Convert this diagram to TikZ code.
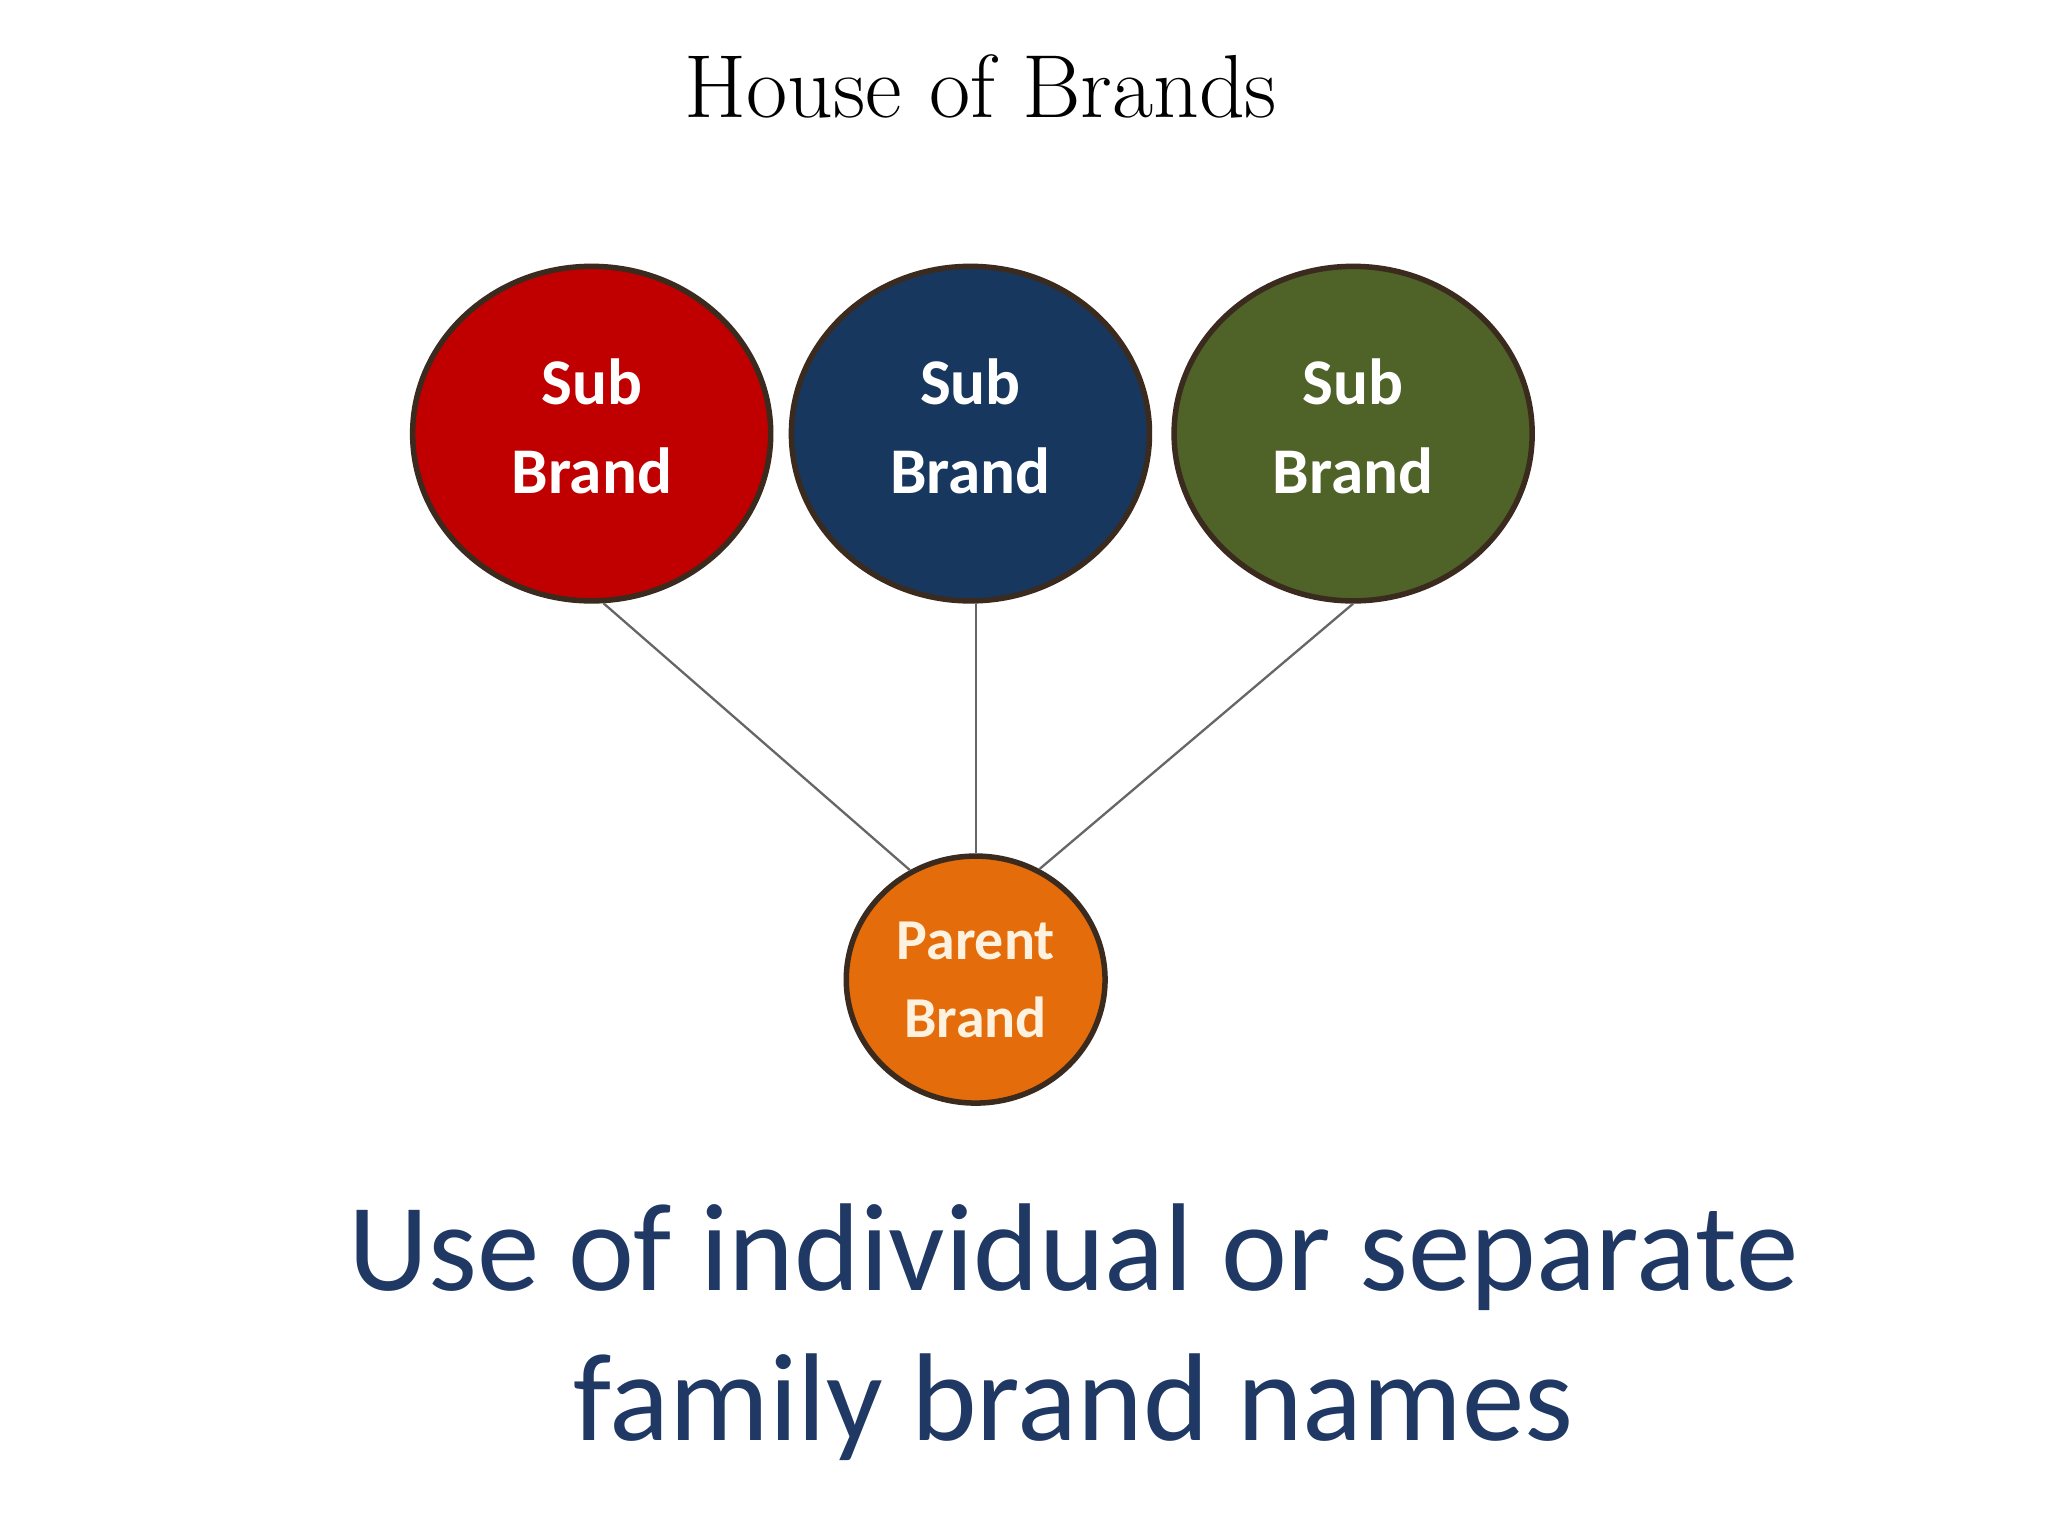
\documentclass[tikz,border=0pt]{standalone}
\usepackage{fontspec}
\newfontfamily\carlito{Carlito}
\usetikzlibrary{shapes.geometric}
\definecolor{subred}{HTML}{C00000}
\definecolor{subblue}{HTML}{17375E}
\definecolor{subgreen}{HTML}{4F6228}
\definecolor{parentorange}{HTML}{E46C0A}
\definecolor{rimbrown}{HTML}{3B2A1E}
\definecolor{captionblue}{HTML}{1F3864}
\definecolor{creamtext}{HTML}{FDF2E0}
\newcommand\subbrandtext{\raisebox{0.6pt}[\height][\depth]{\begin{tabular}{@{}c@{}}Sub\\Brand\end{tabular}}}

\begin{document}
\begin{tikzpicture}
[x=0.01cm, y=-0.01cm,
 subbrand/.style={ellipse, minimum width=2.74cm, minimum height=2.56cm, inner sep=0pt, line width=1.2pt, draw=rimbrown, text=white, font=\carlito\bfseries\fontsize{14.2}{19.4}\selectfont},
 parentbrand/.style={ellipse, minimum width=1.98cm, minimum height=1.89cm, inner sep=0pt, line width=1.2pt, draw=rimbrown, fill=parentorange, text=creamtext, align=center, font=\carlito\bfseries\fontsize{12.6}{17}\selectfont},
 link/.style={line width=0.5pt, color=black!60}]
\useasboundingbox [fill=white] (0,0) rectangle (1568,1176);
\node (title) [font=\fontsize{19.5}{22}\selectfont] at (751,66) {House of Brands};
\node (sub1) [subbrand, fill=subred] at (453,332) {\subbrandtext};
\node (sub2) [subbrand, fill=subblue] at (743,332) {\subbrandtext};
\node (sub3) [subbrand, fill=subgreen] at (1036,332) {\subbrandtext};
\node (parent) [parentbrand] at (747,750) {Parent\\Brand};
\draw [link] (sub1.-86) to (parent.121);
\draw [link] (sub2.south -| parent.north) to (parent.north);
\draw [link] (sub3.south) to (parent.60);
\node (caption) [align=center, text=captionblue, font=\carlito\fontsize{27.2}{32.6}\selectfont] at (822,1020) {Use of individual or separate\\family brand names};
\end{tikzpicture}
\end{document}
